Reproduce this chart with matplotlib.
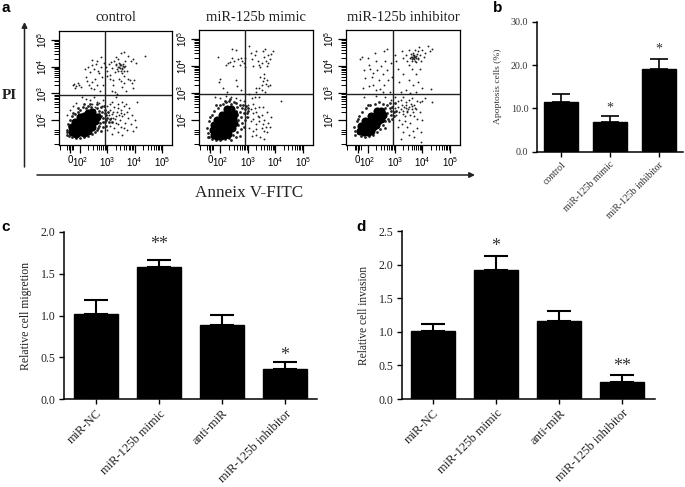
import numpy as np
import matplotlib
matplotlib.use("Agg")
import matplotlib.pyplot as plt
from matplotlib.patches import FancyArrowPatch
from matplotlib.transforms import ScaledTranslation

plt.rcParams['font.family'] = ['Liberation Serif', 'DejaVu Serif']

W, H = 685, 487

# Panel a: dot plots in decades (10^x, 10^y)
ctrl_dots = [(1.72,3.3),(1.78,3.35),(1.85,3.28),(1.9,3.38),(1.95,3.3),(1.8,3.22),(2.02,3.25),(2.2,3.6),(2.25,3.48),
    (2.32,3.3),(2.4,3.2),(2.45,3.42),(2.5,3.15),(2.55,3.55),(2.18,3.92),(2.3,4.0),(2.42,4.05),(2.5,3.9),(2.58,4.1),
    (2.65,3.85),(2.7,3.75),(2.75,4.0),(2.8,3.6),(2.62,3.3),(2.72,3.1),(2.85,3.3),(2.78,4.35),(2.45,4.25),(2.6,4.2),
    (2.35,3.8),(2.95,4.0),(3.0,3.85),(3.05,4.1),(3.1,3.7),(3.15,3.95),(3.2,3.5),(3.25,4.2),(3.3,4.05),(3.35,3.9),
    (3.38,4.3),(3.42,4.15),(3.45,3.95),(3.48,3.85),(3.5,4.05),(3.52,3.75),(3.55,3.95),(3.58,4.1),(3.6,3.85),(3.62,3.65),
    (3.65,4.2),(3.42,3.55),(3.5,3.45),(3.55,3.25),(3.62,3.4),(3.68,3.1),(3.75,3.55),(3.82,3.5),(3.9,3.4),(3.98,3.5),
    (3.95,3.2),(3.7,3.85),(3.75,4.4),(3.6,4.55),(3.85,4.2),(3.95,4.3),(4.05,4.15),(4.38,4.4),(3.5,4.5),(3.3,4.35),
    (3.2,3.3),(3.15,3.1),(3.28,3.05),(3.35,2.98),(3.44,4.0),(3.4,3.85),(3.56,4.02),(3.47,4.12),(3.52,3.9),(3.46,4.05),
    (3.38,4.0),(3.6,3.98),(3.66,4.02),(3.33,4.12),(3.28,3.8),(3.12,4.18),(3.08,3.55),(2.98,3.65),(2.88,4.15),
    (2.05,2.85),(2.2,2.8),(2.35,2.75),(2.5,2.85),(2.6,2.7),(2.7,2.65),(2.8,2.55),(2.85,2.75),(2.45,2.6),(2.55,2.5),
    (3.0,2.55),(3.05,2.2),(3.1,2.4),(3.15,2.7),(3.2,2.1),(3.25,2.5),(3.3,2.85),(3.35,2.3),(3.4,2.6),(3.45,2.0),
    (3.5,2.4),(3.55,2.15),(3.6,2.55),(3.65,1.9),(3.7,2.3),(3.75,2.1),(3.8,2.45),(3.85,1.85),(3.9,2.2),(4.0,2.0),
    (4.05,1.75),(4.1,2.7),(3.25,1.7),(3.4,1.55),(3.55,1.45),(3.3,1.9),(3.1,1.8),(3.0,1.65),(3.42,2.2),(3.62,2.25),
    (3.15,2.25),(3.28,2.05),(3.5,1.75),(3.72,1.65),(3.18,1.5),(3.95,1.6),(1.5,2.2),(1.62,2.4),(1.75,2.55),(1.85,2.65),
    (3.08,2.62),(3.22,2.32),(3.38,2.45),(3.48,2.28),(3.55,2.7),(3.68,2.62),(3.32,2.15),(3.4,1.85),(3.6,1.7),(3.12,2.1)]
ctrl_halo = [(1.52,1.45),(1.5,1.65),(1.55,1.85),(1.62,2.0),(1.7,2.15),(1.8,2.25),(1.9,2.3),(2.0,2.4),(2.1,2.5),(2.2,2.45),
    (2.3,2.55),(2.4,2.5),(2.5,2.4),(2.6,2.45),(2.7,2.35),(2.8,2.3),(2.9,2.4),(2.95,2.2),(2.85,2.1),(2.75,2.15),(2.9,1.95),
    (3.0,2.1),(3.05,1.95),(2.85,1.75),(2.75,1.6),(2.65,1.7),(2.55,1.55),(2.45,1.5),(2.3,1.42),(2.15,1.38),(2.0,1.35),
    (1.85,1.35),(1.7,1.38),(1.6,1.42),(3.1,2.05),(2.95,1.8),(2.62,1.95),(2.72,1.9),(2.78,2.48),(2.92,2.28),(3.02,2.32),
    (2.68,2.22),(2.82,1.92),(2.95,2.02),(3.15,1.95),(2.7,1.78),(2.6,1.62),(2.88,2.55),(2.62,2.6),(2.35,2.62),(2.15,2.6),
    (1.9,2.45),(1.72,2.28),(1.58,1.78),(1.5,1.55)]
ctrl_core = [(1.7,1.55),(1.85,1.5),(2.0,1.55),(2.15,1.52),(2.3,1.6),(1.68,1.75),(1.85,1.72),(2.0,1.78),(2.15,1.72),
    (2.3,1.78),(2.45,1.75),(1.8,1.92),(1.95,1.95),(2.1,1.92),(2.25,1.98),(2.4,1.92),(2.55,1.98),(2.0,2.12),(2.15,2.15),
    (2.3,2.12),(2.45,2.15),(2.6,2.12),(2.28,2.28),(2.42,2.3)]

mimic_dots = [(1.92,4.35),(2.0,3.53),(1.95,3.4),(2.1,3.2),(2.25,3.05),(2.28,4.1),(2.2,4.05),(2.35,4.15),(2.42,4.3),(2.45,4.0),
    (2.5,4.2),(2.58,4.6),(2.42,4.62),(2.65,4.25),(2.7,4.05),(2.75,4.3),(2.8,4.2),(2.85,4.12),(2.9,4.3),(2.88,3.95),(2.6,3.25),
    (2.55,3.5),(2.75,3.1),(3.05,4.75),(3.1,4.5),(3.15,4.25),(3.2,4.0),(3.25,4.4),(3.3,4.55),(3.35,4.2),(3.4,4.05),(3.45,3.95),
    (3.5,4.1),(3.55,4.55),(3.6,4.35),(3.62,4.62),(3.65,4.2),(3.7,4.0),(3.75,4.4),(3.72,4.1),(3.8,4.25),(3.85,4.45),(3.9,4.55),
    (3.55,3.45),(3.6,3.55),(3.65,3.35),(3.7,3.5),(3.75,3.25),(3.5,3.3),(3.45,3.6),(3.4,3.2),(3.28,3.2),(3.3,3.05),(3.52,3.1),
    (3.62,3.05),(3.8,3.3),(3.58,3.72),
    (1.8,2.85),(1.98,2.8),(2.2,2.9),(2.4,2.85),(2.55,2.8),(2.7,2.75),(2.85,2.7),(3.05,2.95),(3.15,2.8),(3.25,2.85),(3.42,2.85),
    (4.2,2.7),(3.0,2.55),(3.1,2.4),(3.2,2.6),(3.3,2.3),(3.4,2.5),(3.5,2.2),(3.55,2.5),(3.6,2.0),(3.7,2.3),(3.75,1.9),(3.8,1.75),
    (3.0,2.1),(3.1,1.95),(3.2,2.05),(3.3,1.85),(3.4,1.95),(3.5,1.7),(3.6,1.6),(3.7,1.55),(3.2,1.6),(3.3,1.45),(3.45,1.35),
    (3.6,1.3),(3.05,1.7),(3.15,1.4),(3.42,2.1),(3.25,2.45),(3.85,2.1),(3.18,2.25),(3.35,2.15),(3.55,1.85),(3.65,1.75),(3.28,1.65)]
mimic_halo = [(1.55,1.5),(1.52,1.7),(1.6,1.95),(1.68,2.2),(1.78,2.35),(1.9,2.45),(2.0,2.55),(2.1,2.6),(2.2,2.65),(2.3,2.7),
    (2.4,2.6),(2.5,2.65),(2.6,2.5),(2.7,2.55),(2.8,2.45),(2.9,2.4),(2.95,2.25),(3.0,2.35),(2.85,2.25),(2.75,2.1),(2.8,1.9),
    (2.9,2.0),(2.65,1.8),(2.75,1.65),(2.6,1.55),(2.45,1.45),(2.3,1.32),(2.15,1.28),(2.0,1.25),(1.85,1.25),(1.7,1.3),(1.6,1.35),
    (2.6,2.2),(2.7,2.3),(2.55,2.35),(2.65,2.0),(2.35,2.78),(2.15,2.72),(2.55,2.62),(2.82,2.55),(3.02,2.45),(2.92,2.52),(2.85,1.75),
    (2.72,1.42),(2.55,1.38),(2.4,1.25),(2.95,2.12),(1.55,1.35),(1.62,2.1),(1.85,2.55)]
mimic_core = [(1.75,1.45),(1.88,1.42),(2.02,1.4),(2.15,1.45),(2.28,1.48),(1.72,1.62),(1.85,1.62),(2.0,1.6),(2.15,1.62),(2.3,1.65),
    (2.42,1.7),(1.78,1.8),(1.92,1.8),(2.05,1.8),(2.2,1.8),(2.35,1.85),(2.48,1.9),(1.88,2.0),(2.02,2.0),(2.15,2.0),(2.3,2.02),
    (2.45,2.08),(2.05,2.2),(2.2,2.22),(2.35,2.25),(2.5,2.22),(2.25,2.4),(2.4,2.42)]

inhib_dots = [(1.78,4.35),(1.72,4.25),(1.85,3.85),(1.9,3.55),(1.82,3.2),(2.0,4.3),(2.05,4.05),(2.1,3.9),(2.15,3.6),(2.2,3.3),
    (2.25,4.5),(2.3,4.2),(2.35,3.85),(2.4,3.5),(2.45,3.15),(2.5,4.0),(2.55,3.7),(2.6,4.55),(2.6,3.3),(2.65,4.2),(2.7,3.85),
    (2.75,3.5),(2.8,3.05),(2.72,4.65),(2.85,4.1),(2.88,3.6),(2.05,3.25),(2.3,3.1),(2.55,3.05),(2.2,3.75),
    (3.0,4.4),(3.05,4.2),(3.1,3.9),(3.15,3.4),(3.2,3.05),(3.25,4.55),(3.3,4.3),(3.3,3.7),(3.4,4.4),(3.4,3.1),(3.45,4.2),(3.5,4.6),
    (3.5,3.5),(3.55,4.3),(3.58,4.45),(3.6,4.2),(3.62,4.35),(3.65,4.5),(3.65,3.3),(3.7,4.25),(3.7,4.4),(3.72,4.6),(3.75,4.3),
    (3.78,4.15),(3.8,4.45),(3.82,4.55),(3.85,4.3),(3.88,4.7),(3.9,4.4),(3.95,4.2),(4.0,4.6),(4.05,4.35),(4.1,4.5),(4.2,4.75),
    (4.28,4.55),(4.35,4.65),(3.75,3.7),(3.75,3.05),(3.85,3.4),(4.0,3.2),(3.55,3.0),(4.3,3.15),(3.6,3.9),(3.9,3.9),(3.52,4.05),
    (3.66,4.3),(3.72,4.35),(3.74,4.2),(3.68,4.38),(3.78,4.38),(3.62,4.28),(3.82,4.25),(3.58,4.35),(3.7,4.32),(3.64,4.42),
    (1.88,2.85),(2.3,2.9),(2.65,2.85),(2.85,2.75),(3.0,2.85),(3.1,2.7),(3.2,2.75),(3.3,2.85),(3.4,2.65),(3.5,2.75),(3.6,2.8),
    (3.7,2.55),(3.8,2.7),(3.9,2.65),(4.0,2.7),(4.1,2.8),(4.35,2.65),(3.0,2.45),(3.1,2.5),(3.15,2.3),(3.25,2.55),(3.3,2.35),
    (3.35,2.15),(3.4,2.45),(3.45,2.3),(3.5,2.5),(3.55,2.2),(3.6,2.4),(3.65,2.3),(3.7,2.15),(3.75,2.4),(3.8,2.05),(3.9,2.3),
    (4.0,2.0),(3.05,2.2),(3.15,2.0),(3.25,1.85),(3.35,1.95),(3.45,1.75),(3.55,1.9),(3.65,1.6),(3.8,1.7),(3.95,1.55),(3.1,1.75),
    (3.3,1.55),(3.5,1.45),(3.95,1.2),(3.2,1.3),(3.7,1.35),(3.4,2.55),(3.58,2.6),(3.2,2.4),(3.32,2.5),(3.48,2.42),(3.62,2.52),
    (3.72,2.45),(3.28,2.22),(3.42,2.32)]
inhib_halo = [(1.55,1.6),(1.5,1.75),(1.6,1.95),(1.7,2.15),(1.8,2.3),(1.95,2.45),(2.1,2.55),(2.25,2.6),(2.4,2.65),(2.55,2.6),
    (2.7,2.55),(2.8,2.45),(2.9,2.5),(2.95,2.3),(2.85,2.2),(2.75,2.05),(2.9,2.05),(2.65,1.95),(2.55,1.8),(2.45,1.65),(2.35,1.55),
    (2.2,1.45),(2.05,1.42),(1.9,1.38),(1.75,1.4),(1.65,1.5),(2.6,2.3),(2.7,2.25),(2.62,2.45),(2.8,2.62),(3.0,2.62),(2.95,2.15),
    (3.05,2.35),(2.78,1.95),(2.62,1.72),(2.85,2.35),(1.55,1.45),(1.65,2.05),(2.0,2.55)]
inhib_core = [(1.72,1.6),(1.85,1.55),(2.0,1.55),(2.12,1.6),(1.75,1.78),(1.9,1.75),(2.05,1.75),(2.2,1.75),(2.32,1.8),(1.92,1.95),
    (2.08,1.95),(2.22,1.95),(2.38,1.98),(2.5,2.02),(2.12,2.15),(2.28,2.15),(2.42,2.18),(2.56,2.2),(2.35,2.32),(2.5,2.32)]

panel_titles = ['control', 'miR-125b mimic', 'miR-125b inhibitor']
x_major = [1.63, 2, 3, 4, 5]
y_major = [2, 3, 4, 5]
x_linear_ticks = [1.25, 1.52, 1.57, 1.68, 1.74]
y_linear_ticks = [1.12, 1.47, 1.55, 1.63]

# Panel b
b_labels = ['control', 'miR-125b mimic', 'miR-125b inhibitor']
b_means = [11.5, 6.8, 19.0]
b_tops = [13.4, 8.3, 21.4]
b_stars = ['', '*', '*']
b_star_y = [0, 10.0, 23.7]

# Panels c and d
cd_labels = ['miR-NC', 'miR-125b mimic', 'anti-miR', 'miR-125b inhibitor']
c_means = [1.02, 1.58, 0.89, 0.36]
c_tops = [1.18, 1.66, 1.01, 0.45]
c_stars = ['', '**', '', '*']
c_star_y = [0, 1.85, 0, 0.52]
d_means = [1.01, 1.93, 1.17, 0.26]
d_tops = [1.12, 2.13, 1.31, 0.36]
d_stars = ['', '*', '', '**']
d_star_y = [0, 2.27, 0, 0.48]


def px_axes(fig, left, top, right, bottom):
    return fig.add_axes([left / W, 1 - bottom / H, (right - left) / W, (bottom - top) / H])


def dot_plot(fig, box, gate_x, gate_y, dots, halo, core, title):
    ax = px_axes(fig, *box)
    for pts, size, col in [(dots, 1.8, '#222222'), (halo, 4, '#222222'), (core, 34, 'black')]:
        pts = np.array(pts)
        ax.scatter(pts[:, 0], pts[:, 1], s=size, c=col, linewidths=0, zorder=2)
    ax.axvline(gate_x, color='#222222', lw=1.0, zorder=3)
    ax.axhline(gate_y, color='#222222', lw=1.0, zorder=3)
    ax.set_xlim(1.22, 5.37)
    ax.set_ylim(1.09, 5.34)
    minors = [n + np.log10(k) for n in (2, 3, 4) for k in range(2, 10)]
    ax.set_xticks(x_major)
    ax.set_xticklabels(['0'] + [r'$\mathregular{10^{%d}}$' % n for n in x_major[1:]],
                       family='Liberation Sans', fontsize=7)
    ax.set_xticks(minors + x_linear_ticks, minor=True)
    ax.set_yticks(y_major)
    ax.set_yticklabels([r'$\mathregular{10^{%d}}$' % n for n in y_major],
                       family='Liberation Sans', fontsize=7, rotation=90, va='center')
    ax.set_yticks(minors + y_linear_ticks, minor=True)
    ax.tick_params(which='major', length=6, width=0.9, pad=1.5)
    ax.tick_params(which='minor', length=3.5, width=0.7)
    for s in ax.spines.values():
        s.set_linewidth(0.9)
    fig.text((box[0] + box[2]) / 2 / W, 1 - 17.5 / H, title, ha='center', va='center', fontsize=10.5, color='#222222')


def bar_plot(fig, box, xlim, means, tops, labels, ymax, yticks, ylabel, stars, star_y,
             fs, label_fs, ylabel_fs, pad, star_fs, cap, lw, col, shift=0):
    ax = px_axes(fig, *box)
    x = np.arange(len(means))
    means = np.array(means)
    ax.bar(x, means, width=0.7, color='black', edgecolor='black', zorder=2)
    ax.errorbar(x, means, yerr=[np.zeros(len(means)), np.array(tops) - means], fmt='none',
                ecolor='black', elinewidth=lw, capsize=cap, capthick=lw, zorder=1)
    ax.set_xlim(*xlim)
    ax.set_ylim(0, ymax)
    ax.set_xticks(x)
    ax.set_xticklabels(labels, rotation=45, ha='right', rotation_mode='anchor', fontsize=label_fs, color=col)
    for t in ax.get_xticklabels():
        t.set_transform(t.get_transform() + ScaledTranslation(shift / 100, 0, fig.dpi_scale_trans))
    ax.set_yticks(yticks)
    ax.set_yticklabels(['%.1f' % v for v in yticks], fontsize=fs, color=col)
    ax.set_ylabel(ylabel, fontsize=ylabel_fs, color=col, labelpad=pad)
    ax.spines[['top', 'right']].set_visible(False)
    ax.spines[['left', 'bottom']].set_linewidth(1.1)
    ax.tick_params(length=3.5, width=1.0, pad=2.5)
    for xi, s, sy in zip(x, stars, star_y):
        if s:
            ax.text(xi, sy, s, ha='center', va='center', fontsize=star_fs, color='#333333')
    return ax


fig = plt.figure(figsize=(W / 100, H / 100), dpi=100)

dot_plot(fig, (59, 31, 172, 144.5), 2.91, 2.94, ctrl_dots, ctrl_halo, ctrl_core, panel_titles[0])
dot_plot(fig, (199, 30, 313, 144.5), 2.91, 2.98, mimic_dots, mimic_halo, mimic_core, panel_titles[1])
dot_plot(fig, (346.3, 30, 460, 144.5), 2.91, 2.98, inhib_dots, inhib_halo, inhib_core, panel_titles[2])

bar_plot(fig, (536.7, 21.7, 683, 151.7), (-0.5, 2.5), b_means, b_tops, b_labels, 30, [0, 10, 20, 30],
         'Apoptosis cells (%)', b_stars, b_star_y, 7.2, 7, 6.8, 6, 10, 6.5, 1.2, '#333333', shift=2)
bar_plot(fig, (64, 231.7, 317, 399.3), (-0.508, 3.508), c_means, c_tops, cd_labels, 2.0, [0, 0.5, 1.0, 1.5, 2.0],
         'Relative cell migretion', c_stars, c_star_y, 8.5, 9, 8.5, 6, 13, 8.3, 1.5, '#222222')
bar_plot(fig, (402, 231.3, 655, 399), (-0.492, 3.52), d_means, d_tops, cd_labels, 2.5, [0, 0.5, 1.0, 1.5, 2.0, 2.5],
         'Relative cell invasion', d_stars, d_star_y, 8.5, 9, 8.3, 6, 13, 8.3, 1.5, '#222222')

# axis arrows of panel a
arrow = dict(arrowstyle='-|>', color='#222222', lw=1.1, mutation_scale=8, shrinkA=0, shrinkB=0)
fig.add_artist(FancyArrowPatch((24.5 / W, 1 - 167 / H), (24.5 / W, 1 - 22 / H), transform=fig.transFigure, **arrow))
fig.add_artist(FancyArrowPatch((37 / W, 1 - 175 / H), (475 / W, 1 - 175 / H), transform=fig.transFigure, **arrow))
fig.text(9 / W, 1 - 95 / H, 'PI', ha='center', va='center', fontsize=11, fontweight='bold', color='#222222')
fig.text(249 / W, 1 - 193 / H, 'Anneix V-FITC', ha='center', va='center', fontsize=12.3, color='#222222')

for letter, px, py in [('a', 6, 8), ('b', 498, 8), ('c', 6, 227), ('d', 361, 227)]:
    fig.text(px / W, 1 - py / H, letter, ha='center', va='center', fontsize=11, fontweight='bold',
             family='Liberation Sans')

fig.savefig('out.png', dpi=100)
